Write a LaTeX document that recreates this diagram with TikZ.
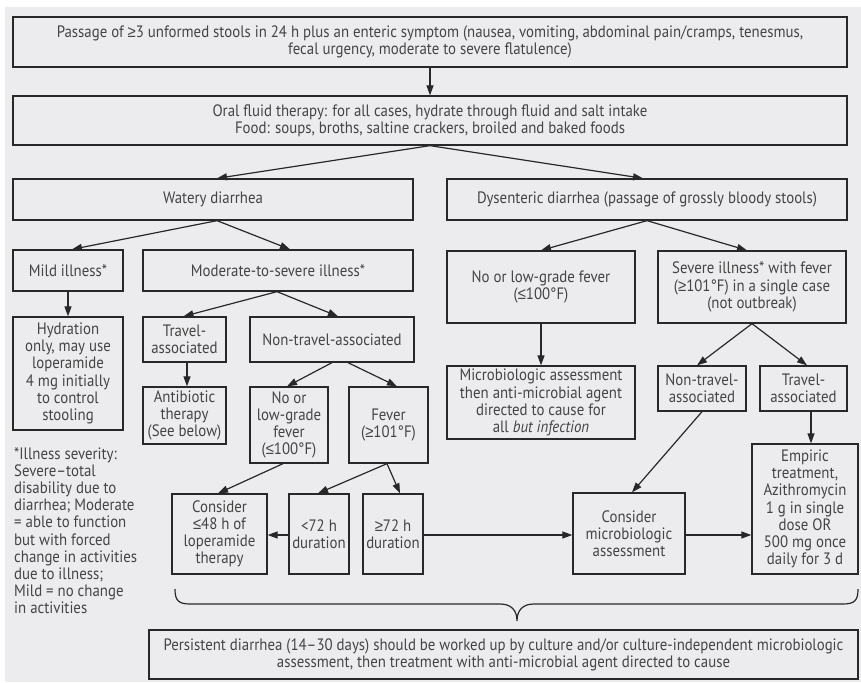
\documentclass[tikz,border=0pt]{standalone}
\usepackage{fontspec}
\setmainfont{PT Sans}[FakeStretch=0.9]
\newfontfamily\symf{Liberation Sans}[FakeStretch=0.9]
\newcommand\mygeq{{\symf ≥}}
\newcommand\myleq{{\symf ≤}}
\usetikzlibrary{arrows.meta}
\definecolor{bgc}{RGB}{236,236,238}
\definecolor{txt}{RGB}{68,68,68}
\definecolor{ln}{RGB}{40,40,40}
\newcommand\fs{\fontsize{16.5}{17.2}\selectfont}
\tikzset{
 box/.style={draw=ln, line width=1.3pt, inner sep=0pt, align=center, text=txt, font=\fs},
 arr/.style={draw=ln, line width=1.2pt, -{Triangle[length=10pt,width=7pt]}},
 brc/.style={draw=ln, line width=1.2pt},
}
\begin{document}
\begin{tikzpicture}[x=1pt,y=-1pt]
\useasboundingbox (0,0) rectangle (861,682);
\fill[bgc] (5,7) rectangle (861,682);
% boxes
\node[box, minimum width=834pt, minimum height=50pt] (A) at (430,42) {Passage of \mygeq3 unformed stools in 24 h plus an enteric symptom (nausea, vomiting, abdominal pain/cramps, tenesmus,\\fecal urgency, moderate to severe flatulence)};
\node[box, minimum width=834pt, minimum height=49pt] (B) at (430,120.5) {Oral fluid therapy: for all cases, hydrate through fluid and salt intake\\Food: soups, broths, saltine crackers, broiled and baked foods};
\node[box, minimum width=400pt, minimum height=41pt] (W) at (213,199.5) {Watery diarrhea};
\node[box, minimum width=400pt, minimum height=41pt] (D) at (647,199.5) {Dysenteric diarrhea (passage of grossly bloody stools)};
\node[box, minimum width=110pt, minimum height=41pt] (mild) at (68,270.5) {Mild illness*};
\node[box, minimum width=270pt, minimum height=41pt] (mod) at (278,270.5) {Moderate-to-severe illness*};
\node[box, minimum width=188pt, minimum height=72pt] (nld) at (541,287) {No or low-grade fever\\(\myleq100°F)};
\node[box, minimum width=188pt, minimum height=72pt] (sev) at (752,287) {Severe illness* with fever\\(\mygeq101°F) in a single case\\(not outbreak)};
\node[box, minimum width=110pt, minimum height=113pt] (hyd) at (68,373.5) {Hydration\\only, may use\\loperamide\\4 mg initially\\to control\\stooling};
\node[box, minimum width=83pt, minimum height=45pt] (tw) at (184.5,339.5) {Travel-\\associated};
\node[box, minimum width=164pt, minimum height=45pt] (ntw) at (332,339.5) {Non-travel-associated};
\node[box, minimum width=83pt, minimum height=57pt] (anti) at (184.5,415.5) {Antibiotic\\therapy\\(See below)};
\node[box, minimum width=78pt, minimum height=76pt] (nlw) at (289,425) {No or\\low-grade\\fever\\(\myleq100°F)};
\node[box, minimum width=79pt, minimum height=76pt] (fev) at (388.5,425) {Fever\\(\mygeq101°F)};
\node[box, minimum width=95pt, minimum height=80pt] (cons) at (219.5,534) {Consider\\\myleq48 h of\\loperamide\\therapy};
\node[box, minimum width=60pt, minimum height=80pt] (lt) at (319,534) {<72 h\\duration};
\node[box, minimum width=60pt, minimum height=80pt] (ge) at (393,534) {\mygeq72 h\\duration};
\node[box, minimum width=188pt, minimum height=73pt] (mica) at (541,402.5) {Microbiologic assessment\\then anti-microbial agent\\directed to cause for\\all \textit{but infection}};
\node[box, minimum width=88pt, minimum height=45pt] (ntd) at (702,388.5) {Non-travel-\\associated};
\node[box, minimum width=87pt, minimum height=45pt] (td) at (803.5,388.5) {Travel-\\associated};
\node[box, minimum width=112pt, minimum height=81pt] (micb) at (629,533.5) {Consider\\microbiologic\\assessment};
\node[box, minimum width=106pt, minimum height=130pt] (emp) at (805,509) {Empiric\\treatment,\\Azithromycin\\1 g in single\\dose OR\\500 mg once\\daily for 3 d};
\node[box, minimum width=709pt, minimum height=49pt] (pers) at (503.5,654.5) {Persistent diarrhea (14–30 days) should be worked up by culture and/or culture-independent microbiologic\\assessment, then treatment with anti-microbial agent directed to cause};
% footnote
\node[anchor=north west, align=left, inner sep=0pt, text=txt, font=\fs] (note) at (14,447) {*Illness severity:\\Severe–total\\disability due to\\diarrhea; Moderate\\= able to function\\but with forced\\change in activities\\due to illness;\\Mild = no change\\in activities};
% arrows
\draw[arr] (A) -- (B);
\draw[arr] (B.south) -- ([xshift=4pt]W.north);
\draw[arr] (B.south) -- ([xshift=-4pt]D.north);
\draw[arr] ([xshift=4pt]W.south) -- ([xshift=4pt]mild.north);
\draw[arr] ([xshift=4pt]W.south) -- ([xshift=12pt]mod.north);
\draw[arr] (D.south) -- (nld.north);
\draw[arr] (D.south) -- ([xshift=-5pt]sev.north);
\draw[arr] (mild) -- (hyd);
\draw[arr] ([xshift=-1pt]mod.south) -- ([xshift=-1pt]tw.north);
\draw[arr] ([xshift=-1pt]mod.south) -- ([xshift=6pt]ntw.north);
\draw[arr] ([xshift=2.5pt]tw.south) -- ([xshift=2.5pt]anti.north);
\draw[arr] (ntw.south) -- ([xshift=-2pt]nlw.north);
\draw[arr] ([xshift=16pt]ntw.south) -- ([xshift=8.5pt]fev.north);
\draw[arr] ([xshift=-6pt]nlw.south) -- ([xshift=-1.5pt]cons.north);
\draw[arr] ([xshift=-1.5pt]fev.south) -- ([xshift=-1pt]lt.north);
\draw[arr] ([xshift=-1.5pt]fev.south) -- ([xshift=7pt]ge.north);
\draw[arr] ([yshift=-1pt]lt.west) -- ([yshift=-1pt]lt.west -| cons.east);
\draw[arr] ([yshift=-1pt]ge.east) -- ([yshift=-1pt]ge.east -| micb.west);
\draw[arr] ([yshift=-1.5pt]micb.east) -- ([yshift=-1.5pt]micb.east -| emp.west);
\draw[arr] (nld) -- (mica);
\draw[arr] (sev.south) -- ([xshift=-5pt]ntd.north);
\draw[arr] (sev.south) -- ([xshift=3.5pt]td.north);
\draw[arr] ([xshift=7.5pt]td.south) -- ([xshift=7.5pt]td.south |- emp.north);
\draw[arr] (ntd.south) -- ([xshift=3pt]micb.north);
% brace
\coordinate (bl) at (175,589);
\coordinate (bt) at (517,621);
\coordinate (br) at (858,589);
\draw[brc] (bl) .. controls (175,600) and (178,604) .. (190,604) -- (500,604)
  .. controls (511,604) and (517,610) .. (bt)
  .. controls (517,610) and (523,604) .. (534,604) -- (843,604)
  .. controls (855,604) and (858,600) .. (br);
\end{tikzpicture}
\end{document}
